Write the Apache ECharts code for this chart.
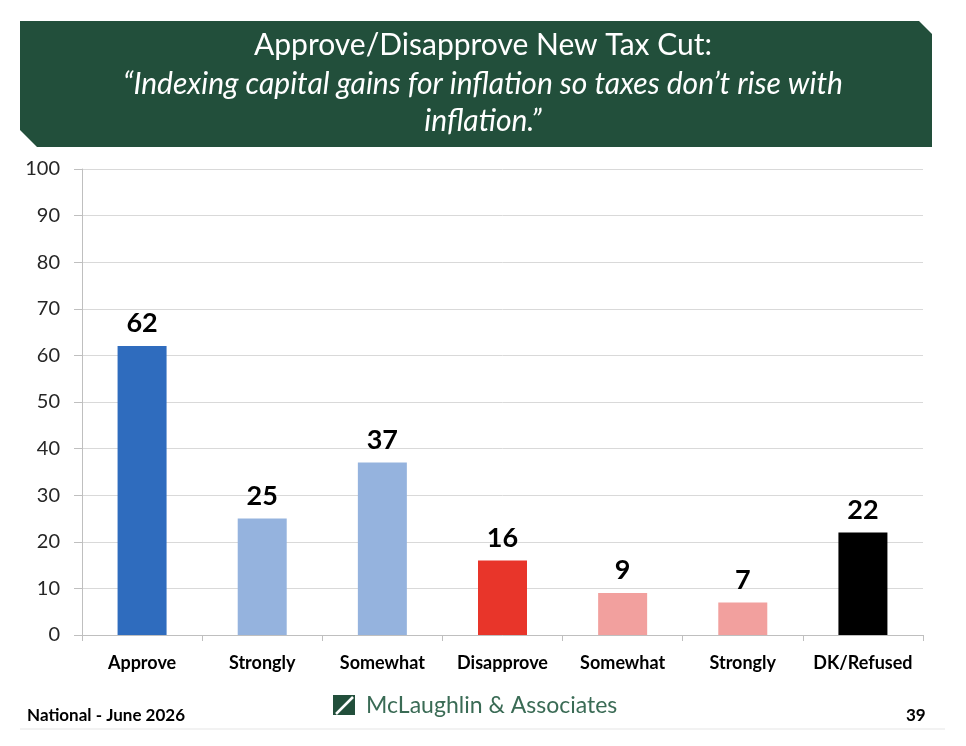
<!DOCTYPE html>
<html>
<head>
<meta charset="utf-8">
<script src="https://cdn.jsdelivr.net/npm/echarts@6/dist/echarts.min.js"></script>
<style>
html,body{margin:0;padding:0;background:#fff;}
#chart{width:966px;height:746px;}
</style>
</head>
<body>
<div id="chart"></div>
<script>
// ---- data ----
const categories = ['Approve', 'Strongly', 'Somewhat', 'Disapprove', 'Somewhat', 'Strongly', 'DK/Refused'];
const values = [62, 25, 37, 16, 9, 7, 22];
const barColors = ['#2F6CBE', '#95B3DE', '#95B3DE', '#E8352A', '#F2A09E', '#F2A09E', '#000000'];
const yTicks = { min: 0, max: 100, interval: 10 };
const titleLine1 = 'Approve/Disapprove New Tax Cut:';
const titleLine2 = '\u201CIndexing capital gains for inflation so taxes don\u2019t rise with';
const titleLine3 = 'inflation.\u201D';
const footerLeft = 'National - June 2026';
const footerRight = '39';
const footerBrand = 'McLaughlin & Associates';

const FONT = 'Lato, "Open Sans", sans-serif';
const chart = echarts.init(document.getElementById('chart'));

chart.setOption({
  animation: false,
  backgroundColor: '#ffffff',
  grid: { left: 82, right: 43, top: 169, bottom: 111 },
  xAxis: {
    type: 'category',
    data: categories,
    axisLine: { lineStyle: { color: '#BFBFBF', width: 1 } },
    axisTick: { show: true, alignWithLabel: false, length: 6, lineStyle: { color: '#BFBFBF' } },
    axisLabel: { interval: 0, hideOverlap: false, color: '#000', fontFamily: FONT, fontWeight: 'bold', fontSize: 18, margin: 19 }
  },
  yAxis: {
    type: 'value',
    min: yTicks.min, max: yTicks.max, interval: yTicks.interval,
    axisLine: { show: true, lineStyle: { color: '#BFBFBF', width: 1 } },
    axisTick: { show: true, length: 8, lineStyle: { color: '#BFBFBF' } },
    splitLine: { lineStyle: { color: '#D9D9D9', width: 1 } },
    axisLabel: { color: '#262626', fontFamily: FONT, fontSize: 20, margin: 22 }
  },
  series: [{
    type: 'bar',
    barWidth: 49,
    data: values.map((v, i) => ({ value: v, itemStyle: { color: barColors[i] } })),
    label: {
      show: true, position: 'top', distance: 9,
      color: '#000', fontFamily: FONT, fontWeight: 'bold', fontSize: 27
    }
  }],
  graphic: [
    {
      type: 'polygon', z: 1,
      shape: { points: [[20,21],[919,21],[932,34],[932,147],[37,147],[20,130]] },
      style: { fill: '#224F3B' }
    },
    {
      type: 'text', z: 2, left: 'center', top: 30,
      style: { text: titleLine1, fill: '#fff', font: '30px ' + FONT }
    },
    {
      type: 'text', z: 2, left: 'center', top: 69,
      style: { text: titleLine2, fill: '#fff', font: 'italic 30px ' + FONT }
    },
    {
      type: 'text', z: 2, left: 'center', top: 106,
      style: { text: titleLine3, fill: '#fff', font: 'italic 30px ' + FONT }
    },
    {
      type: 'text', z: 2, left: 27, top: 707,
      style: { text: footerLeft, fill: '#000', font: 'bold 17px ' + FONT }
    },
    {
      type: 'text', z: 2, left: 906, top: 707,
      style: { text: footerRight, fill: '#000', font: 'bold 17px ' + FONT }
    },
    {
      type: 'rect', z: 2,
      shape: { x: 333, y: 695, width: 22, height: 20 },
      style: { fill: '#224F3B' }
    },
    {
      type: 'line', z: 3,
      shape: { x1: 336, y1: 714, x2: 353, y2: 697 },
      style: { stroke: '#ffffff', lineWidth: 2.5 }
    },
    {
      type: 'text', z: 2, left: 366, top: 694,
      style: { text: footerBrand, fill: '#3A6B55', font: '23px ' + FONT }
    },
    {
      type: 'rect', z: 1,
      shape: { x: 20, y: 728, width: 925, height: 2 },
      style: { fill: '#F2F2F2' }
    }
  ]
});
</script>
</body>
</html>
